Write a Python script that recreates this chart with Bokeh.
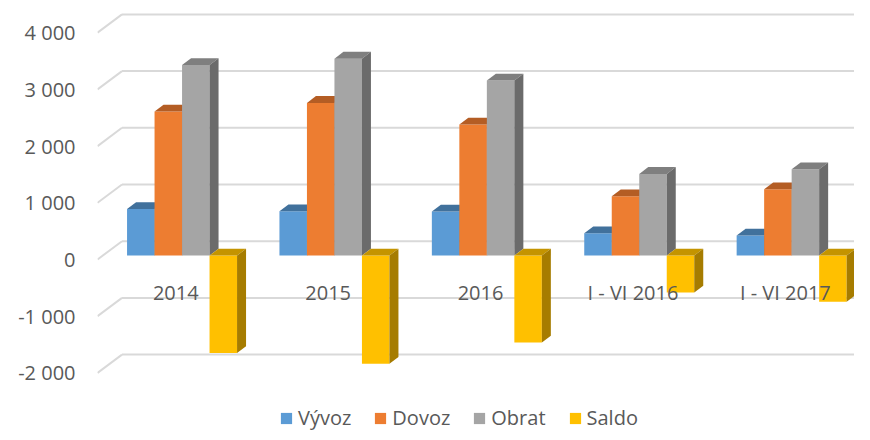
from bokeh.plotting import figure
from bokeh.models import Range1d, LinearAxis, FixedTicker, Legend, LegendItem
from bokeh.core.properties import value
from bokeh.embed import file_html
from bokeh.resources import INLINE

categories = ["2014", "2015", "2016", "I - VI 2016", "I - VI 2017"]
series_names = ["Vývoz", "Dovoz", "Obrat", "Saldo"]
vyvoz = [820, 781, 776, 393, 353]
dovoz = [2540, 2691, 2310, 1046, 1169]
obrat = [3360, 3472, 3086, 1439, 1522]
saldo = [-1720, -1910, -1534, -653, -816]
y_ticks = [-2000, -1000, 0, 1000, 2000, 3000, 4000]
y_tick_labels = ["-2 000", "-1 000", "0", "1 000", "2 000", "3 000", "4 000"]

series_values = [vyvoz, dovoz, obrat, saldo]
front_colors = ["#5B9BD5", "#ED7D31", "#A5A5A5", "#FFC000"]
top_colors = ["#41719C", "#B45D24", "#7F7F7F", "#C49400"]
side_colors = ["#3A6690", "#A4521E", "#6B6B6B", "#A67C00"]

FONT = "Open Sans"
TEXT_COLOR = "#595959"

W, H = 854, 432
LEFT = 97
# geometry (data units)
PX_X = 152.4
PX_Y = 0.0567
X0 = -0.02
X1 = X0 + (W - LEFT) / PX_X
Y1 = 259 / PX_Y
Y0 = (259 - H) / PX_Y
WDX, WDY = 24.5 / PX_X, 18.3 / PX_Y      # back wall depth
FDX, FDY = 5.3 / PX_X, 4.0 / PX_Y        # bar front-face depth
BDX, BDY = 9.0 / PX_X, 6.8 / PX_Y        # bar depth
BAR_W = 27.5 / PX_X
GAP = (1 - 4 * BAR_W) / 2

p = figure(width=W, height=H, output_backend="svg", toolbar_location=None,
           x_range=Range1d(X0, X1), y_range=Range1d(Y0, Y1),
           min_border_left=LEFT, min_border_right=0, min_border_top=0, min_border_bottom=0,
           x_axis_location=None, y_axis_location=None)
p.outline_line_color = None
p.xgrid.visible = False
p.ygrid.visible = False
p.background_fill_color = "white"
p.border_fill_color = "white"

yaxis = LinearAxis(ticker=FixedTicker(ticks=y_ticks),
                   major_label_overrides={t: l for t, l in zip(y_ticks, y_tick_labels)})
yaxis.axis_line_color = None
yaxis.major_tick_line_color = None
yaxis.minor_tick_line_color = None
yaxis.major_tick_out = 0
yaxis.major_tick_in = 0
yaxis.major_label_standoff = 22
yaxis.major_label_text_font = FONT
yaxis.major_label_text_font_size = "20px"
yaxis.major_label_text_color = TEXT_COLOR
p.add_layout(yaxis, "left")

# gridlines: slanted front part + back wall
gx0, gy0, gx1, gy1 = [], [], [], []
for t in y_ticks:
    gx0.append(X0); gy0.append(t); gx1.append(X0 + WDX); gy1.append(t + WDY)
    gx0.append(X0 + WDX); gy0.append(t + WDY); gx1.append(X1 + 1); gy1.append(t + WDY)
p.segment(gx0, gy0, gx1, gy1, line_color="#D9D9D9", line_width=2)

legend_items = []
for s, vals in enumerate(series_values):
    L, R, B, T = [], [], [], []
    top_xs, top_ys, side_xs, side_ys = [], [], [], []
    for i, v in enumerate(vals):
        left = i + GAP + s * BAR_W + FDX
        right = left + BAR_W
        bot = min(0, v) + FDY
        top = max(0, v) + FDY
        L.append(left); R.append(right); B.append(bot); T.append(top)
        top_xs.append([left, right, right + BDX, left + BDX])
        top_ys.append([top, top, top + BDY, top + BDY])
        side_xs.append([right, right + BDX, right + BDX, right])
        side_ys.append([bot, bot + BDY, top + BDY, top])
    r = p.quad(left=L, right=R, bottom=B, top=T, fill_color=front_colors[s], line_color=None)
    p.patches(top_xs, top_ys, fill_color=top_colors[s], line_color=None)
    p.patches(side_xs, side_ys, fill_color=side_colors[s], line_color=None)
    legend_items.append(LegendItem(label=series_names[s], renderers=[r]))

# category labels
lab_x = [i + 0.5 - 1 / PX_X for i in range(len(categories))]
lab_y = [-33 / PX_Y] * len(categories)
p.text(lab_x, lab_y, text=categories, text_font=value(FONT), text_font_size="20px",
       text_color=TEXT_COLOR, text_align="center", text_baseline="middle")

legend = Legend(items=legend_items, orientation="horizontal", location=(182, 1))
legend.border_line_color = None
legend.background_fill_alpha = 0
legend.padding = 0
legend.margin = 0
legend.spacing = 22
legend.label_standoff = 5
legend.glyph_width = 14
legend.glyph_height = 14
legend.label_text_font = FONT
legend.label_text_font_size = "20px"
legend.label_text_color = TEXT_COLOR
legend.label_height = 14
p.add_layout(legend, "center")

open("out.html", "w").write(file_html(p, INLINE))
